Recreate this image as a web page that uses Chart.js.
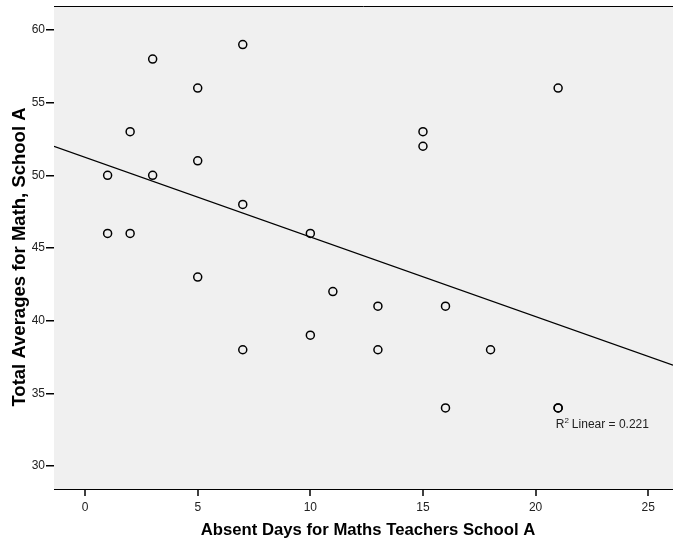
<!DOCTYPE html>
<html>
<head>
    <title>Absent days vs math averages</title>
    <style>
        html, body { margin: 0; padding: 0; background: #fff; }
        #wrap { width: 673px; height: 544px; }
    </style>
    <script src="https://cdn.jsdelivr.net/npm/chart.js"></script>
</head>
<body>
    <div id="wrap"><canvas id="chart" width="673" height="544"></canvas></div>

    <script>
        const absentDays = [1, 1, 2, 2, 3, 3, 5, 5, 5, 7, 7, 7, 10, 10, 11, 13, 13, 15, 15, 16, 16, 18, 21, 21, 21];
        const mathAverages = [50, 46, 53, 46, 58, 50, 56, 51, 43, 59, 48, 38, 46, 39, 42, 41, 38, 53, 52, 41, 34, 38, 56, 34, 34];

        // Fit line endpoints (at the plot edges)
        const fitX = [-1.38, 26.1];
        const fitY = [52.0, 36.94];

        const xTicks = [0, 5, 10, 15, 20, 25];
        const yTicks = [30, 35, 40, 45, 50, 55, 60];
        const xTitle = 'Absent Days for Maths Teachers School A';
        const yTitle = 'Total Averages for Math, School A';
        const fitLabel = 'Linear = 0.221';

        const points = absentDays.map((d, i) => ({ x: d, y: mathAverages[i] }));
        const fitLine = fitX.map((d, i) => ({ x: d, y: fitY[i] }));

        const FONT = '"Liberation Sans", Arial, sans-serif';

        // Gray plot background, top frame, x tick marks, axis titles and R² note
        const plotDecor = {
            id: 'plotDecor',
            beforeDatasetsDraw(chart) {
                const { ctx, chartArea: a, scales } = chart;
                ctx.save();
                ctx.fillStyle = '#f0f0f0';
                ctx.fillRect(a.left, a.top, a.right - a.left, a.bottom - a.top);
                ctx.strokeStyle = '#000';
                ctx.lineWidth = 1;
                ctx.beginPath();
                ctx.moveTo(a.left, a.top + 0.5);
                ctx.lineTo(a.right, a.top + 0.5);
                ctx.stroke();

                ctx.lineWidth = 1.5;
                ctx.beginPath();
                xTicks.forEach(v => {
                    const x = Math.round(scales.x.getPixelForValue(v));
                    ctx.moveTo(x, a.bottom);
                    ctx.lineTo(x, a.bottom + 7);
                });
                ctx.stroke();
                ctx.restore();
            },
            afterDatasetsDraw(chart) {
                const { ctx, scales } = chart;
                ctx.save();

                // R² note
                const px = scales.x.getPixelForValue(20.9);
                const py = scales.y.getPixelForValue(32.85);
                ctx.fillStyle = '#222';
                ctx.textBaseline = 'middle';
                ctx.font = '12px ' + FONT;
                ctx.fillText('R', px, py);
                const rw = ctx.measureText('R').width;
                ctx.font = '8px ' + FONT;
                ctx.fillText('2', px + rw, py - 4);
                ctx.font = '12px ' + FONT;
                ctx.fillText(' ' + fitLabel, px + rw + 4, py);

                // axis titles
                ctx.fillStyle = '#000';
                ctx.textAlign = 'center';
                ctx.textBaseline = 'alphabetic';
                ctx.font = 'bold 16.7px ' + FONT;
                ctx.fillText(xTitle, 368, 535);

                ctx.translate(25, 257);
                ctx.rotate(-Math.PI / 2);
                ctx.font = 'bold 18.5px ' + FONT;
                ctx.fillText(yTitle, 0, 0);
                ctx.restore();
            }
        };

        const ctx = document.getElementById('chart').getContext('2d');
        new Chart(ctx, {
            type: 'scatter',
            data: {
                datasets: [
                    {
                        label: 'Total Averages',
                        data: points,
                        pointRadius: 4,
                        pointBorderWidth: 1.5,
                        pointBorderColor: '#000',
                        pointBackgroundColor: 'rgba(0,0,0,0)',
                        pointHoverRadius: 4
                    },
                    {
                        type: 'line',
                        label: 'Linear fit',
                        data: fitLine,
                        borderColor: '#000',
                        borderWidth: 1.2,
                        pointRadius: 0,
                        fill: false
                    }
                ]
            },
            options: {
                responsive: false,
                animation: false,
                layout: { autoPadding: false, padding: { top: 6, right: 0, left: 0, bottom: 0 } },
                plugins: {
                    legend: { display: false },
                    tooltip: { enabled: false }
                },
                scales: {
                    x: {
                        type: 'linear',
                        min: -1.38,
                        max: 26.1,
                        afterBuildTicks: scale => { scale.ticks = xTicks.map(v => ({ value: v })); },
                        afterFit: scale => {
                            scale.height = 55;
                            scale.paddingLeft = 0;
                            scale.paddingRight = 0;
                        },
                        grid: { display: false },
                        border: { display: true, color: '#000', width: 1 },
                        ticks: {
                            color: '#222',
                            padding: 3,
                            maxRotation: 0,
                            font: { family: FONT, size: 12 }
                        }
                    },
                    y: {
                        type: 'linear',
                        min: 28.42,
                        max: 61.65,
                        afterBuildTicks: scale => { scale.ticks = yTicks.map(v => ({ value: v })); },
                        afterFit: scale => {
                            scale.width = 54;
                            scale.paddingTop = 0;
                            scale.paddingBottom = 0;
                        },
                        grid: { drawOnChartArea: false, drawTicks: true, tickLength: 8, lineWidth: 1.5, color: '#000' },
                        border: { display: true, color: '#000', width: 1 },
                        ticks: {
                            color: '#222',
                            padding: 1,
                            font: { family: FONT, size: 12 }
                        }
                    }
                }
            },
            plugins: [plotDecor]
        });
    </script>
</body>
</html>
